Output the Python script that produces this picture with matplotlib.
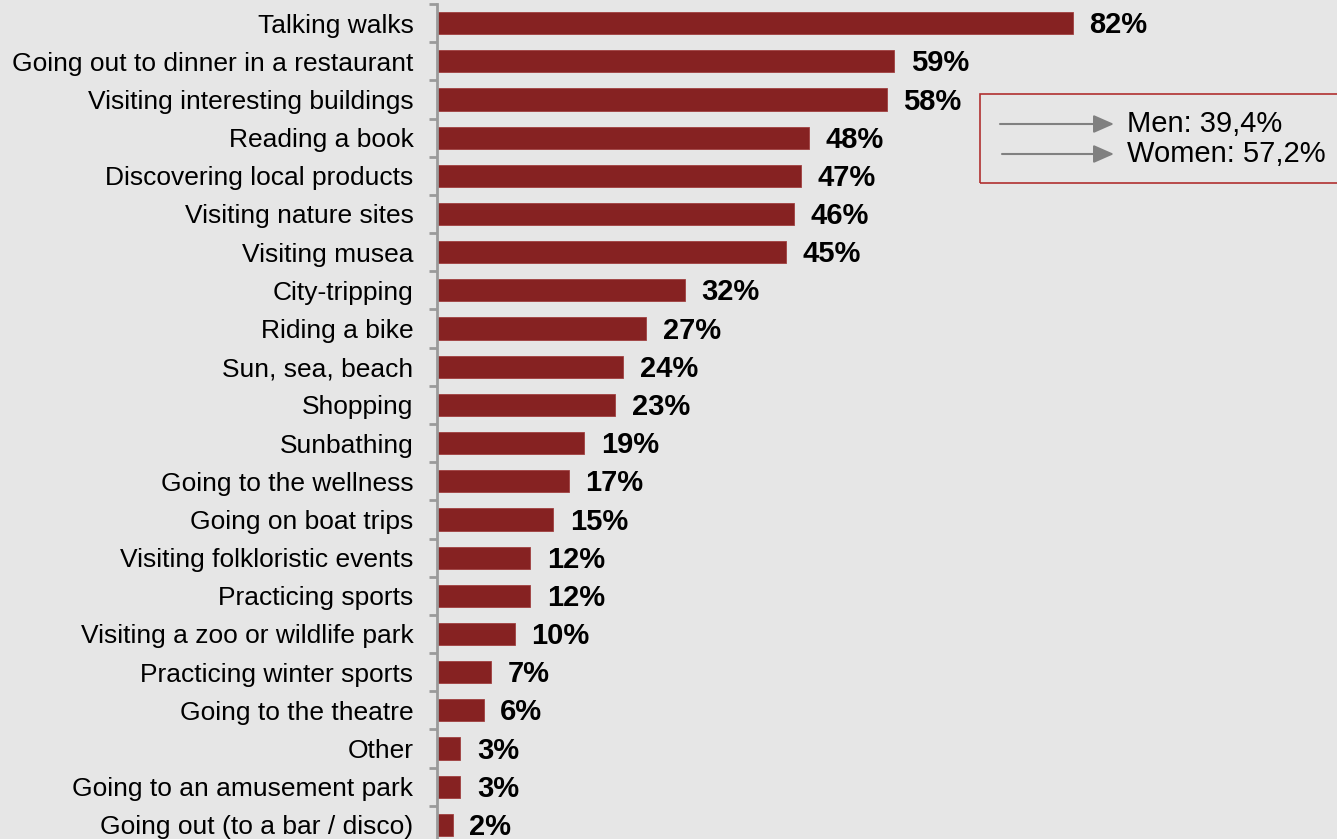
import matplotlib.pyplot as plt
from matplotlib.patches import Rectangle, FancyArrowPatch
import numpy as np

activities = ["Talking walks", "Going out to dinner in a restaurant",
              "Visiting interesting buildings", "Reading a book",
              "Discovering local products", "Visiting nature sites",
              "Visiting musea", "City-tripping", "Riding a bike",
              "Sun, sea, beach", "Shopping", "Sunbathing",
              "Going to the wellness", "Going on boat trips",
              "Visiting folkloristic events", "Practicing sports",
              "Visiting a zoo or wildlife park", "Practicing winter sports",
              "Going to the theatre", "Other", "Going to an amusement park",
              "Going out (to a bar / disco)"]
shares = [82, 59, 58, 48, 47, 46, 45, 32, 27, 24, 23, 19, 17, 15, 12, 12,
          10, 7, 6, 3, 3, 2]
legend_lines = ["Men: 39,4%", "Women: 57,2%"]

bg = "#e6e6e6"
bar_color = "#862222"
plt.rcParams['font.family'] = ['Liberation Sans', 'DejaVu Sans']

fig = plt.figure(figsize=(13.37, 8.39), dpi=100, facecolor=bg)
W, H = 1337, 839
# axes spans from the first tick down past the bottom edge
top_px, bot_px = 4, 844
ax = fig.add_axes([437 / W, (H - bot_px) / H, 775 / W, (bot_px - top_px) / H])
ax.set_facecolor(bg)

n = len(activities)
y = np.arange(n)
ax.barh(y, shares, height=0.58, color=bar_color, edgecolor="#a04040",
        linewidth=0.6)
ax.set_ylim(n - 0.5, -0.5)
ax.set_xlim(0, 100)

for yi, v in zip(y, shares):
    ax.annotate(f"{v}%", (v, yi), xytext=(12, -1.5), textcoords="offset points",
                va="center", ha="left", fontsize=21, fontweight="bold")

ax.set_yticks(y)
ax.set_yticklabels(activities, fontsize=19)
ax.tick_params(axis="y", which="major", length=0, pad=17)
ax.set_yticks(np.arange(-0.5, n, 1), minor=True)
ax.tick_params(axis="y", which="minor", length=6, width=2, color="#9a9a9a")
ax.set_xticks([])
for s in ["top", "right", "bottom"]:
    ax.spines[s].set_visible(False)
ax.spines["left"].set_color("#9a9a9a")
ax.spines["left"].set_linewidth(2)

# legend box with arrows
fig.patches.append(Rectangle((980 / W, 1 - 183 / H), 380 / W, 89 / H,
                             transform=fig.transFigure, facecolor="none",
                             edgecolor="#b03030", linewidth=1.2))
for i, txt in enumerate(legend_lines):
    yy = 1 - (124 + 30 * i) / H
    fig.patches.append(FancyArrowPatch(
        ((1000 + 2 * i) / W, yy), (1114 / W, yy), transform=fig.transFigure,
        arrowstyle="-|>,head_length=5,head_width=2.2", color="#808080",
        linewidth=1.5, mutation_scale=2.5, shrinkA=0, shrinkB=0))
    fig.text(1127 / W, yy, txt, fontsize=21, va="center", ha="left")

fig.savefig("out.png", dpi=100, facecolor=bg)
